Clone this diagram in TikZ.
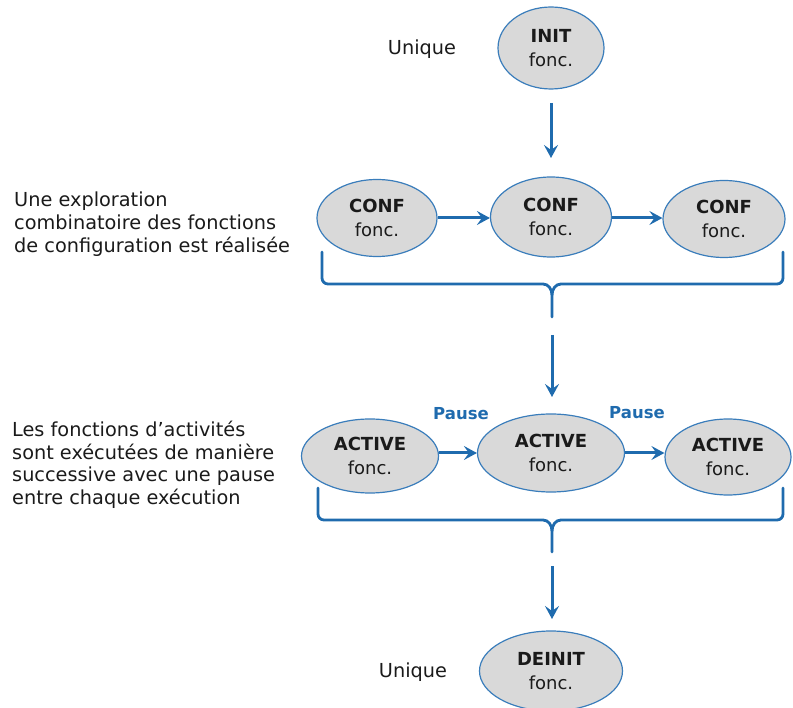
\documentclass[tikz,border=0pt]{standalone}
\usepackage{fontspec}
\setmainfont{DejaVu Sans}
\usetikzlibrary{shapes.geometric,arrows.meta}
\definecolor{ellborder}{HTML}{3A7DBB}
\definecolor{ellfill}{HTML}{D9D9D9}
\definecolor{linkblue}{HTML}{1F6BAE}
\definecolor{txt}{HTML}{1A1A1A}
\tikzset{
  fnode/.style={ellipse, draw=ellborder, fill=ellfill, line width=1.2pt, inner sep=0pt,
    minimum width=#1, align=center, text=txt, font=\fontsize{18}{24}\selectfont},
  fnode/.default=120pt,
  flow/.style={draw=linkblue, line width=3pt, -{Stealth[length=13pt,width=14pt,inset=5pt]}},
  bracepath/.style={draw=linkblue, line width=2.8pt, line cap=round},
  sidetext/.style={align=left, anchor=north west, text=txt, inner sep=0pt, font=\fontsize{19.3}{22.6}\selectfont},
  pauselbl/.style={text=linkblue, font=\bfseries\fontsize{16.5}{18}\selectfont, inner sep=0pt}
}
\begin{document}
\begin{tikzpicture}[x=1pt,y=-1pt]
\useasboundingbox (0,0) rectangle (793,708);

% nodes
\node[fnode=106pt, minimum height=82pt] (init) at (551,48) {\textbf{INIT}\\fonc.};
\node[fnode=120pt, minimum height=77pt] (conf1) at (377,218) {\textbf{CONF}\\fonc.};
\node[fnode=121pt, minimum height=80pt] (conf2) at (551,217) {\textbf{CONF}\\fonc.};
\node[fnode=122pt, minimum height=77pt] (conf3) at (724,219) {\textbf{CONF}\\fonc.};
\node[fnode=137pt, minimum height=74pt] (act1) at (370,456) {\textbf{ACTIVE}\\fonc.};
\node[fnode=147pt, minimum height=78pt] (act2) at (551,453) {\textbf{ACTIVE}\\fonc.};
\node[fnode=126pt, minimum height=76pt] (act3) at (728,457) {\textbf{ACTIVE}\\fonc.};
\node[fnode=143pt, minimum height=80pt] (deinit) at (551,671) {\textbf{DEINIT}\\fonc.};

% side texts
\node[text=txt, font=\fontsize{19.3}{22}\selectfont] (u1) at (422,49) {Unique};
\node[text=txt, font=\fontsize{19.3}{22}\selectfont] (u2) at (413,672) {Unique};
\node[sidetext] (t1) at (14,192) {Une exploration\\combinatoire des fonctions\\de configuration est réalisée};
\node[sidetext] (t2) at (12,421) {Les fonctions d’activités\\sont exécutées de manière\\successive avec une pause\\entre chaque exécution};

% pause labels
\node[pauselbl] (p1) at (461,414) {Pause};
\node[pauselbl] (p2) at (637,413) {Pause};

% coordinates for arrows
\coordinate (a0s) at (551,103);
\coordinate (a0e) at (551,158);
\coordinate (b1tip) at (552,317);
\coordinate (a1s) at (552,335);
\coordinate (a1e) at (552,397);
\coordinate (b2tip) at (552,552);
\coordinate (a2s) at (552,566);
\coordinate (a2e) at (552,619);

% arrows
\draw[flow] (a0s) -- (a0e);
\draw[flow] (conf1.east) -- (conf2.west |- conf1.east);
\draw[flow] (conf2.east |- conf1.east) -- (conf3.west |- conf1.east);
\draw[flow] (a1s) -- (a1e);
\draw[flow] (act1.east |- act2) -- (act2);
\draw[flow] (act2) -- (act3.west |- act2);
\draw[flow] (a2s) -- (a2e);

% braces
\draw[bracepath] (322,252) -- (322,278) to[out=-90,in=180] (328,284) -- (543,284)
  to[out=0,in=90] (552,295) -- (b1tip);
\draw[bracepath] (783,252) -- (783,278) to[out=-90,in=0] (777,284) -- (561,284)
  to[out=180,in=90] (552,295);
\draw[bracepath] (318,488) -- (318,514) to[out=-90,in=180] (324,520) -- (543,520)
  to[out=0,in=90] (552,531) -- (b2tip);
\draw[bracepath] (783,488) -- (783,514) to[out=-90,in=0] (777,520) -- (561,520)
  to[out=180,in=90] (552,531);
\end{tikzpicture}
\end{document}
